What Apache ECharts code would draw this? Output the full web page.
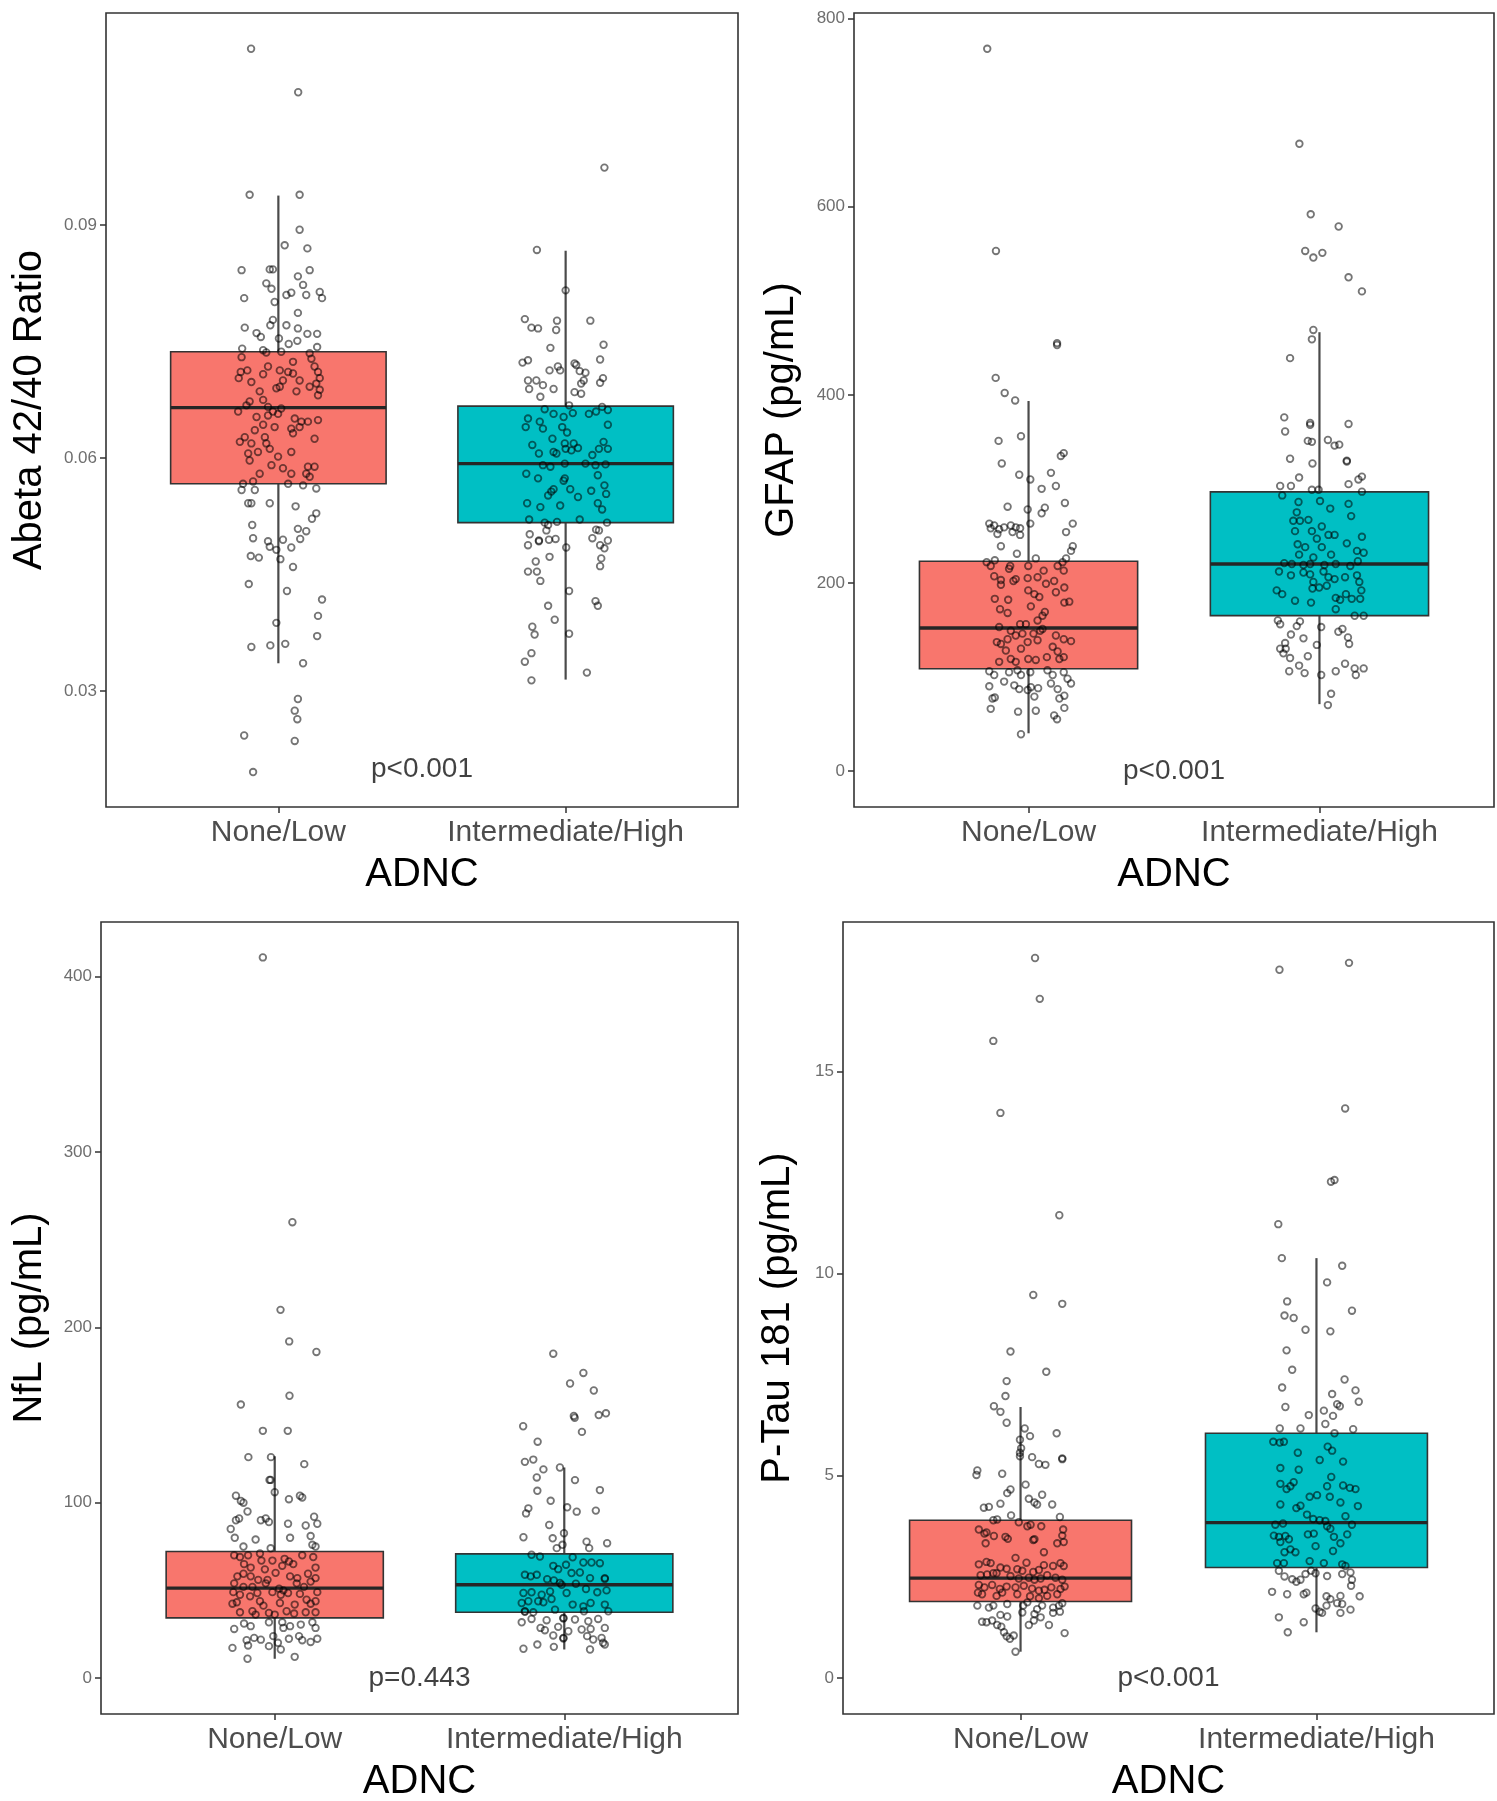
<!DOCTYPE html>
<html>
<head>
<meta charset="utf-8">
<script src="https://cdn.jsdelivr.net/npm/echarts@6/dist/echarts.min.js"></script>
<style>
html,body{margin:0;padding:0;background:#fff;}
#chart{width:1497px;height:1801px;}
</style>
</head>
<body>
<div id="chart"></div>
<script>
// ---------------- data ----------------
const categories = ['None/Low', 'Intermediate/High'];
const xAxisTitle = 'ADNC';
const yTitles = ['Abeta 42/40 Ratio', 'GFAP (pg/mL)', 'NfL (pg/mL)', 'P-Tau 181 (pg/mL)'];
const pValues = ['p<0.001', 'p<0.001', 'p=0.443', 'p<0.001'];
const pValueY = [0.02, 0, 0, 0];

const abetaTicks = [0.03, 0.06, 0.09];
const gfapTicks = [0, 200, 400, 600, 800];
const nflTicks = [0, 100, 200, 300, 400];
const ptauTicks = [0, 5, 10, 15];

const abetaRange = [0.0151, 0.1173];
const gfapRange = [-38.4, 806.1];
const nflRange = [-20.5, 431.2];
const ptauRange = [-0.89, 18.69];

// box stats: [lower whisker, Q1, median, Q3, upper whisker]
const abetaBoxes = [[0.0336, 0.0567, 0.0665, 0.0737, 0.0938], [0.0315, 0.0517, 0.0593, 0.0667, 0.0867]];
const gfapBoxes = [[40, 108.6, 152, 223, 393.4], [71, 165.2, 220.1, 296.8, 466.6]];
const nflBoxes = [[11, 34.3, 51.3, 72.2, 126.5], [16.3, 37.5, 53.2, 70.8, 120.1]];
const ptauBoxes = [[0.65, 1.89, 2.47, 3.90, 6.70], [1.13, 2.73, 3.84, 6.05, 10.38]];

// points: [horizontal jitter, value]
const abetaNoneLow = [[-0.100,0.0939],[0.074,0.0939],[0.074,0.0894],[0.022,0.0874],[0.101,0.0870],[-0.128,0.0842],[-0.030,0.0843],[-0.019,0.0843],[0.109,0.0842],[0.068,0.0834],[-0.042,0.0825],[-0.024,0.0818],[0.086,0.0823],[-0.119,0.0806],[-0.013,0.0801],[0.028,0.0810],[0.045,0.0813],[0.097,0.0810],[0.144,0.0814],[0.152,0.0806],[0.068,0.0787],[-0.019,0.0778],[-0.028,0.0771],[-0.117,0.0768],[-0.076,0.0761],[-0.061,0.0756],[0.028,0.0771],[0.068,0.0767],[0.101,0.0760],[0.135,0.0760],[0.002,0.0754],[0.036,0.0747],[0.066,0.0751],[0.135,0.0743],[-0.126,0.0741],[-0.053,0.0739],[-0.042,0.0736],[-0.128,0.0730],[0.010,0.0737],[0.109,0.0735],[0.115,0.0728],[0.051,0.0724],[0.126,0.0718],[-0.131,0.0711],[-0.108,0.0713],[-0.053,0.0708],[-0.036,0.0718],[0.005,0.0713],[0.034,0.0711],[0.051,0.0709],[0.138,0.0711],[0.144,0.0703],[-0.138,0.0703],[-0.094,0.0698],[-0.007,0.0690],[0.005,0.0692],[0.016,0.0700],[0.074,0.0700],[0.109,0.0692],[0.132,0.0696],[0.144,0.0688],[-0.065,0.0686],[0.063,0.0686],[0.138,0.0681],[-0.053,0.0675],[-0.100,0.0673],[-0.140,0.0660],[-0.111,0.0668],[-0.036,0.0666],[0.010,0.0664],[-0.076,0.0653],[-0.036,0.0655],[-0.019,0.0660],[-0.001,0.0657],[0.057,0.0651],[0.080,0.0647],[0.103,0.0647],[0.138,0.0649],[-0.053,0.0643],[-0.013,0.0640],[0.045,0.0638],[0.074,0.0640],[-0.082,0.0636],[-0.117,0.0627],[-0.047,0.0627],[0.051,0.0632],[0.126,0.0625],[-0.134,0.0621],[-0.094,0.0619],[-0.042,0.0619],[-0.030,0.0612],[-0.071,0.0608],[-0.105,0.0606],[0.045,0.0608],[-0.100,0.0597],[-0.001,0.0602],[-0.024,0.0591],[0.016,0.0587],[0.103,0.0589],[0.126,0.0589],[-0.065,0.0580],[0.045,0.0580],[0.097,0.0580],[0.109,0.0576],[-0.123,0.0567],[-0.088,0.0570],[0.034,0.0567],[0.086,0.0565],[0.132,0.0561],[-0.128,0.0559],[-0.082,0.0559],[-0.105,0.0542],[-0.094,0.0542],[-0.030,0.0542],[0.060,0.0538],[0.132,0.0529],[0.117,0.0522],[-0.091,0.0514],[0.068,0.0509],[0.097,0.0506],[-0.088,0.0497],[0.076,0.0496],[-0.036,0.0493],[0.016,0.0495],[-0.030,0.0486],[-0.007,0.0482],[0.045,0.0485],[-0.096,0.0474],[-0.068,0.0472],[0.007,0.0470],[0.051,0.0460],[-0.103,0.0438],[0.030,0.0429],[0.152,0.0418],[0.138,0.0397],[-0.007,0.0388],[0.135,0.0371],[-0.094,0.0357],[-0.028,0.0359],[0.024,0.0361],[0.086,0.0336],[0.068,0.0290],[0.057,0.0275],[0.066,0.0264],[-0.119,0.0243],[0.057,0.0236],[-0.088,0.0196],[-0.095,0.1127],[0.069,0.1071]];
const abetaIntHigh = [[0.135,0.0974],[-0.100,0.0868],[0.000,0.0816],[-0.142,0.0779],[-0.119,0.0768],[-0.096,0.0767],[-0.030,0.0777],[-0.033,0.0765],[0.086,0.0777],[-0.053,0.0742],[0.132,0.0746],[-0.150,0.0723],[-0.131,0.0726],[0.120,0.0727],[-0.027,0.0718],[-0.019,0.0713],[0.031,0.0722],[0.037,0.0720],[-0.056,0.0713],[0.049,0.0712],[0.069,0.0710],[-0.131,0.0700],[-0.102,0.0700],[-0.079,0.0694],[-0.127,0.0689],[-0.042,0.0689],[-0.088,0.0679],[0.054,0.0696],[0.063,0.0700],[0.120,0.0697],[0.130,0.0703],[0.031,0.0685],[0.054,0.0683],[0.012,0.0668],[-0.073,0.0663],[-0.042,0.0657],[-0.007,0.0653],[0.025,0.0658],[0.081,0.0657],[0.106,0.0660],[0.127,0.0666],[0.147,0.0662],[-0.131,0.0651],[-0.139,0.0640],[-0.090,0.0647],[-0.079,0.0638],[-0.012,0.0640],[0.005,0.0633],[0.147,0.0643],[-0.116,0.0617],[-0.093,0.0606],[-0.046,0.0625],[-0.003,0.0619],[0.028,0.0619],[0.043,0.0613],[-0.042,0.0608],[-0.032,0.0606],[0.000,0.0612],[0.020,0.0610],[0.093,0.0604],[0.116,0.0612],[0.132,0.0621],[0.147,0.0612],[-0.079,0.0591],[-0.053,0.0589],[-0.003,0.0593],[0.069,0.0593],[0.104,0.0591],[0.139,0.0592],[-0.137,0.0580],[-0.096,0.0574],[-0.003,0.0574],[0.112,0.0578],[-0.007,0.0571],[0.135,0.0565],[0.016,0.0560],[0.089,0.0558],[-0.050,0.0557],[-0.061,0.0552],[-0.042,0.0560],[0.043,0.0550],[0.141,0.0554],[-0.134,0.0542],[-0.088,0.0537],[-0.019,0.0539],[0.112,0.0542],[0.127,0.0534],[-0.127,0.0521],[-0.073,0.0517],[-0.030,0.0518],[-0.061,0.0514],[0.049,0.0521],[0.144,0.0517],[-0.067,0.0507],[0.106,0.0508],[0.116,0.0507],[-0.125,0.0502],[-0.093,0.0494],[-0.093,0.0493],[-0.058,0.0495],[-0.035,0.0496],[-0.131,0.0488],[0.093,0.0497],[0.147,0.0494],[0.120,0.0488],[0.135,0.0484],[0.002,0.0485],[-0.056,0.0473],[-0.104,0.0467],[0.124,0.0471],[0.120,0.0461],[-0.131,0.0454],[-0.100,0.0454],[-0.088,0.0442],[0.012,0.0429],[0.104,0.0416],[0.112,0.0410],[-0.061,0.0410],[-0.038,0.0392],[0.012,0.0374],[-0.116,0.0383],[-0.108,0.0373],[-0.119,0.0349],[-0.142,0.0338],[-0.119,0.0314],[0.074,0.0324]];

const gfapNoneLow = [[0.098,455],[0.098,453],[-0.113,418],[-0.082,402],[-0.046,394],[-0.103,351],[-0.026,356],[0.121,338],[0.111,335],[-0.092,327],[-0.032,315],[0.077,317],[0.006,310],[0.045,300],[0.094,303],[0.125,285],[-0.072,281],[-0.003,278],[0.056,280],[0.045,274],[-0.135,263],[-0.118,261],[-0.101,257],[-0.084,259],[-0.061,261],[-0.044,259],[-0.029,258],[-0.055,254],[-0.107,252],[-0.029,251],[-0.130,258],[0.006,263],[0.152,263],[0.129,254],[-0.095,239],[0.152,239],[0.146,234],[-0.040,231],[0.025,226],[0.129,226],[0.117,222],[-0.144,222],[-0.116,224],[-0.130,218],[-0.063,218],[-0.067,215],[-0.001,218],[0.052,213],[0.100,218],[0.121,213],[-0.118,207],[-0.095,203],[-0.044,204],[-0.003,205],[0.031,206],[0.060,199],[0.088,202],[-0.095,198],[0.123,195],[-0.052,202],[-0.001,192],[0.020,188],[0.037,185],[0.094,190],[-0.116,183],[-0.070,182],[0.123,179],[0.140,180],[0.008,175],[-0.098,172],[-0.072,168],[0.056,169],[0.048,165],[0.031,160],[-0.029,156],[-0.009,156],[-0.101,153],[0.040,149],[0.048,151],[-0.061,149],[-0.044,144],[-0.021,146],[0.017,146],[0.094,144],[0.121,140],[0.146,138],[-0.109,137],[-0.095,135],[-0.072,140],[-0.003,137],[0.031,139],[-0.078,128],[-0.026,130],[0.083,132],[0.100,127],[-0.061,119],[-0.044,116],[-0.001,119],[0.025,118],[0.063,121],[0.106,119],[0.121,121],[-0.101,116],[-0.135,106],[-0.118,102],[-0.067,105],[-0.038,107],[-0.026,102],[0.006,105],[0.065,107],[0.083,102],[0.121,105],[0.134,98],[-0.135,90],[-0.084,95],[-0.049,91],[-0.032,87],[-0.003,86],[0.008,89],[0.033,88],[0.077,93],[0.100,87],[0.146,93],[-0.124,77],[-0.116,78],[0.020,79],[0.106,77],[0.123,80],[-0.130,66],[-0.036,63],[0.025,64],[0.123,67],[0.088,59],[0.098,55],[-0.026,39],[-0.142,768],[-0.112,553]];
const gfapIntHigh = [[-0.069,667],[-0.030,592],[0.066,579],[-0.049,553],[-0.021,546],[0.010,551],[0.100,525],[0.146,510],[-0.021,469],[-0.026,459],[-0.101,439],[-0.121,376],[-0.118,361],[-0.032,370],[-0.032,368],[0.100,369],[-0.040,351],[-0.026,350],[0.029,352],[0.052,346],[0.068,347],[-0.101,332],[-0.024,327],[0.094,330],[0.094,329],[-0.070,312],[0.134,310],[0.146,313],[-0.135,303],[-0.128,293],[-0.098,303],[-0.026,299],[-0.003,299],[0.100,305],[0.146,297],[-0.072,286],[-0.078,275],[0.002,287],[0.037,279],[0.100,284],[0.109,271],[-0.090,266],[-0.067,266],[-0.038,267],[-0.084,255],[-0.026,255],[0.008,260],[0.031,251],[0.052,251],[-0.009,247],[0.146,249],[-0.075,241],[-0.049,238],[0.008,238],[0.094,242],[0.129,234],[0.152,232],[-0.070,230],[-0.021,227],[0.040,230],[-0.121,221],[-0.095,220],[-0.055,219],[-0.032,220],[0.017,219],[0.056,220],[0.106,218],[0.132,223],[-0.139,212],[-0.098,208],[-0.055,211],[-0.032,209],[0.014,212],[0.031,206],[0.052,204],[0.088,206],[0.129,208],[0.137,201],[-0.021,201],[-0.001,195],[0.025,197],[-0.147,192],[-0.128,188],[-0.024,194],[0.091,188],[0.111,183],[-0.084,181],[-0.029,179],[0.056,184],[0.071,182],[0.144,192],[0.140,183],[0.056,172],[0.121,165],[0.152,165],[-0.143,160],[-0.135,156],[-0.078,154],[-0.067,159],[0.006,153],[0.065,148],[0.079,151],[-0.098,145],[-0.055,141],[-0.009,134],[0.098,142],[0.102,135],[-0.118,136],[-0.135,130],[-0.116,130],[-0.124,125],[-0.101,120],[-0.040,122],[-0.070,112],[-0.051,104],[-0.104,106],[0.006,102],[0.056,106],[0.088,114],[0.121,109],[0.125,102],[0.152,109],[0.040,82],[0.029,70]];

const nflNoneLow = [[-0.041,411],[0.061,260],[0.020,210],[0.050,192],[0.144,186],[0.051,161],[-0.117,156],[-0.041,141],[0.045,141],[-0.091,126],[-0.013,126],[0.102,122],[-0.018,113],[-0.014,113],[0.000,106],[0.087,104],[0.095,103],[-0.134,104],[-0.117,101],[-0.108,100],[0.049,102],[-0.094,95],[-0.134,90],[-0.123,91],[-0.048,90],[-0.031,91],[-0.020,89],[0.046,88],[0.107,87],[0.136,92],[0.147,88],[-0.152,85],[-0.138,80],[-0.066,79],[0.053,80],[0.124,81],[0.130,76],[0.141,75],[-0.108,75],[-0.014,74],[-0.140,70],[-0.120,69],[-0.092,70],[-0.051,71],[-0.046,67],[0.034,68],[0.049,66.5],[0.095,70],[0.133,69],[-0.106,65],[-0.083,63],[-0.034,62],[-0.008,67],[0.026,64],[0.064,65],[0.141,63],[-0.129,58],[-0.108,59.5],[-0.083,58],[-0.057,56],[-0.025,56],[0.003,60],[0.053,58],[0.078,57],[0.115,59.5],[0.141,57],[-0.140,54],[-0.108,52],[-0.077,52],[-0.031,54],[0.015,51],[0.030,50],[0.076,54],[0.101,52],[0.124,55],[-0.143,49],[-0.120,47.5],[-0.085,46.6],[-0.060,48.5],[-0.008,49],[0.021,47.5],[0.046,48.5],[0.087,48],[0.147,49],[-0.146,42.4],[-0.131,43.2],[-0.051,43.8],[-0.039,41.3],[0.018,42.8],[0.069,41.9],[0.110,44.7],[0.124,42.4],[0.141,43.8],[-0.120,37.5],[-0.077,38.1],[-0.066,36.2],[-0.020,37.1],[0.000,36.2],[0.041,38.1],[0.067,36.8],[0.107,37.5],[0.141,37.5],[-0.140,28],[-0.106,31.1],[-0.083,29.6],[-0.020,31.8],[0.026,31.8],[0.030,28.6],[0.053,29.6],[0.090,30.5],[0.130,31.8],[0.141,28.6],[-0.097,21.6],[-0.071,22.9],[-0.048,21.9],[-0.005,23.9],[0.011,20.1],[0.049,22.4],[0.084,23.9],[0.095,21.6],[0.124,20.6],[0.147,22.4],[-0.146,17.2],[-0.092,18.6],[-0.020,18.2],[0.021,16.3],[-0.094,11],[0.069,12.1]];
const nflIntHigh = [[-0.038,185],[0.066,174],[0.020,168],[0.102,164],[0.033,149.5],[0.036,148.5],[0.119,150],[0.144,151],[-0.142,143.6],[0.061,140.4],[-0.092,134.8],[-0.136,123.3],[-0.107,124.6],[-0.015,120.1],[-0.072,119],[-0.095,114.4],[0.037,112.9],[-0.093,106.8],[0.123,107.2],[-0.047,101.1],[-0.124,96.8],[-0.132,93.9],[0.010,97.4],[0.043,94.9],[0.109,95.5],[-0.052,87.3],[-0.141,80.3],[-0.040,79.7],[-0.001,82.6],[0.077,77.8],[0.148,76.9],[-0.026,74.1],[-0.006,76],[0.086,74.1],[-0.113,70.3],[-0.084,69.3],[0.029,68.9],[-0.038,64],[-0.021,62.1],[0.006,64.6],[0.066,65.9],[0.094,65.9],[0.123,65.5],[-0.136,58.9],[-0.116,58],[-0.095,58.9],[-0.059,56.4],[-0.036,55.7],[0.025,59.9],[0.054,60.2],[0.089,57],[0.140,57],[0.140,56.5],[-0.015,54.2],[-0.009,53.2],[0.040,53.8],[-0.141,48.5],[-0.113,48.9],[-0.078,47.5],[-0.049,49.4],[0.008,48.5],[0.075,50.8],[0.114,48.9],[0.146,50],[-0.147,42.8],[-0.124,43.8],[-0.090,43.8],[-0.072,43.2],[-0.044,45.1],[0.029,41.9],[0.066,40.9],[0.091,42.8],[0.140,41.9],[-0.136,38.1],[-0.136,37.8],[-0.107,37.5],[-0.032,39],[0.068,38.1],[0.152,38.1],[-0.113,33.7],[-0.003,34.3],[-0.003,34.0],[0.037,33.4],[0.083,32.4],[0.117,33.7],[-0.147,31.8],[-0.061,33],[-0.082,28.6],[-0.067,27.3],[-0.021,29.2],[0.014,26.7],[0.060,27.7],[0.091,28],[0.140,28.6],[-0.038,24.3],[-0.003,22.9],[-0.003,22.6],[0.079,23.9],[0.100,22],[0.134,20.1],[-0.093,19.1],[-0.036,17.8],[0.089,16.3],[0.129,22.9],[-0.141,16.7],[0.140,19.1]];

const ptauNoneLow = [[0.049,17.80],[0.065,16.79],[-0.092,15.75],[-0.068,13.97],[0.131,11.44],[0.043,9.47],[0.141,9.25],[-0.034,8.07],[0.087,7.57],[-0.047,7.34],[-0.051,6.97],[-0.090,6.72],[-0.068,6.58],[-0.047,6.31],[0.014,6.17],[0.032,5.98],[-0.002,5.89],[0.122,6.05],[0.002,5.68],[-0.002,5.57],[-0.002,5.48],[0.039,5.46],[0.062,5.29],[0.084,5.27],[0.141,5.43],[0.141,5.41],[-0.146,5.13],[-0.149,5.02],[-0.062,5.05],[0.017,4.78],[-0.034,4.66],[-0.045,4.57],[0.028,4.43],[0.047,4.34],[0.056,4.29],[0.073,4.53],[-0.124,4.21],[-0.107,4.23],[-0.068,4.31],[0.107,4.29],[-0.032,4.02],[0.133,3.98],[-0.092,3.90],[-0.079,3.92],[-0.141,3.67],[-0.122,3.57],[-0.115,3.60],[-0.090,3.51],[-0.051,3.49],[-0.043,3.44],[-0.006,3.85],[0.023,3.75],[0.034,3.79],[0.070,3.75],[0.043,3.41],[0.047,3.43],[0.144,3.67],[0.141,3.52],[-0.118,3.33],[0.124,3.33],[0.146,3.36],[0.079,3.11],[-0.017,2.97],[-0.141,2.81],[-0.115,2.87],[-0.101,2.84],[0.020,2.85],[0.079,2.79],[0.110,2.77],[0.135,2.84],[0.146,2.77],[-0.068,2.73],[-0.047,2.70],[-0.011,2.69],[0.006,2.65],[0.043,2.62],[0.062,2.67],[-0.135,2.54],[-0.113,2.56],[-0.092,2.59],[-0.081,2.59],[-0.034,2.52],[-0.006,2.46],[0.028,2.48],[0.047,2.43],[0.068,2.46],[0.090,2.54],[0.118,2.48],[0.141,2.43],[-0.141,2.30],[-0.122,2.24],[-0.096,2.30],[-0.070,2.20],[-0.047,2.26],[-0.017,2.24],[0.011,2.28],[0.039,2.21],[0.062,2.16],[0.081,2.18],[0.104,2.24],[0.135,2.20],[0.149,2.26],[-0.144,2.11],[-0.130,2.07],[-0.081,2.03],[-0.062,2.11],[-0.011,2.07],[0.032,2.02],[0.062,1.97],[0.090,2.03],[0.124,2.07],[-0.146,1.79],[-0.107,1.74],[-0.092,1.79],[-0.045,1.83],[0.009,1.79],[0.023,1.87],[0.056,1.70],[0.073,1.79],[0.110,1.74],[0.130,1.79],[0.141,1.85],[-0.068,1.56],[-0.045,1.52],[0.006,1.62],[0.047,1.58],[0.068,1.50],[0.110,1.61],[0.133,1.64],[-0.130,1.39],[-0.115,1.38],[-0.096,1.42],[-0.079,1.31],[-0.065,1.27],[0.028,1.31],[0.045,1.42],[0.096,1.31],[-0.056,1.13],[-0.047,1.03],[-0.036,0.97],[-0.023,1.05],[0.149,1.11],[-0.017,0.65]];
const ptauIntHigh = [[-0.125,17.51],[0.110,17.68],[0.097,14.08],[0.049,12.27],[0.061,12.31],[-0.129,11.22],[-0.117,10.38],[0.087,10.19],[0.036,9.78],[-0.099,9.31],[0.120,9.08],[-0.108,8.96],[-0.077,8.90],[-0.037,8.61],[0.047,8.57],[-0.101,8.10],[-0.082,7.62],[0.095,7.38],[-0.116,7.18],[0.053,7.02],[0.079,6.72],[0.070,6.77],[0.132,7.11],[0.143,6.83],[-0.105,6.70],[-0.026,6.50],[0.025,6.61],[0.056,6.48],[0.030,6.28],[-0.124,6.17],[-0.054,6.17],[0.124,6.15],[0.061,6.05],[-0.146,5.84],[-0.124,5.82],[-0.110,5.84],[0.038,5.72],[0.053,5.62],[-0.063,5.57],[0.011,5.39],[0.090,5.35],[-0.122,5.19],[-0.060,5.15],[0.050,4.97],[-0.122,4.80],[-0.101,4.67],[-0.088,4.74],[-0.077,4.84],[0.036,4.74],[0.090,4.76],[0.113,4.70],[0.132,4.67],[-0.023,4.48],[0.002,4.52],[0.045,4.48],[-0.122,4.29],[0.081,4.34],[0.140,4.25],[-0.068,4.20],[-0.054,4.26],[-0.032,4.04],[0.098,4.00],[-0.011,3.93],[0.011,3.90],[0.030,3.88],[-0.139,3.79],[-0.113,3.82],[0.120,3.79],[0.036,3.75],[0.047,3.69],[-0.144,3.52],[-0.127,3.49],[-0.105,3.51],[-0.029,3.55],[-0.009,3.57],[0.059,3.49],[0.104,3.55],[-0.122,3.36],[-0.093,3.43],[-0.003,3.26],[0.081,3.33],[-0.108,3.11],[-0.088,3.18],[-0.071,3.11],[0.056,3.14],[-0.023,2.89],[-0.133,2.84],[-0.110,2.84],[0.025,2.84],[0.087,2.81],[0.098,2.77],[-0.127,2.65],[-0.108,2.51],[-0.082,2.44],[-0.068,2.38],[-0.054,2.43],[-0.037,2.57],[-0.018,2.65],[-0.003,2.59],[0.036,2.52],[0.087,2.57],[0.115,2.61],[0.120,2.43],[0.117,2.28],[-0.150,2.13],[-0.099,2.07],[-0.043,2.07],[-0.034,2.11],[0.034,2.02],[0.047,1.95],[0.081,2.03],[0.146,2.02],[0.034,1.79],[0.070,1.85],[0.087,1.83],[-0.003,1.72],[0.011,1.64],[0.019,1.61],[0.115,1.69],[0.081,1.61],[-0.127,1.50],[-0.043,1.38],[-0.097,1.13]];

// ---------------- styles / layout ----------------
const FONT = '"Liberation Sans", Arial, Helvetica, sans-serif';
const BOX_COLORS = ['#F8766D', '#00BFC4'];
const BOX_HALF = 0.375;

const panels = [
  {grid: {left: 106, top: 13, width: 632, height: 794}, range: abetaRange, ticks: abetaTicks, boxes: abetaBoxes, groups: [abetaNoneLow, abetaIntHigh], nameGap: 56},
  {grid: {left: 854, top: 13, width: 640, height: 794}, range: gfapRange, ticks: gfapTicks, boxes: gfapBoxes, groups: [gfapNoneLow, gfapIntHigh], nameGap: 52},
  {grid: {left: 101, top: 922, width: 637, height: 792}, range: nflRange, ticks: nflTicks, boxes: nflBoxes, groups: [nflNoneLow, nflIntHigh], nameGap: 51},
  {grid: {left: 843, top: 922, width: 651, height: 792}, range: ptauRange, ticks: ptauTicks, boxes: ptauBoxes, groups: [ptauNoneLow, ptauIntHigh], nameGap: 45}
];

function fmtTick(v) {
  return String(parseFloat(v.toPrecision(6)));
}

function renderBox(params, api) {
  const x = api.value(0);
  const lo = api.value(1), q1 = api.value(2), med = api.value(3), q3 = api.value(4), hi = api.value(5);
  const tl = api.coord([x - BOX_HALF, q3]);
  const br = api.coord([x + BOX_HALF, q1]);
  const mL = api.coord([x - BOX_HALF, med]);
  const mR = api.coord([x + BOX_HALF, med]);
  const pHi = api.coord([x, hi]);
  const pQ3 = api.coord([x, q3]);
  const pQ1 = api.coord([x, q1]);
  const pLo = api.coord([x, lo]);
  const whisk = {stroke: '#4a4a4a', lineWidth: 2.2};
  return {
    type: 'group',
    children: [
      {type: 'line', shape: {x1: pHi[0], y1: pHi[1], x2: pQ3[0], y2: pQ3[1]}, style: whisk},
      {type: 'line', shape: {x1: pQ1[0], y1: pQ1[1], x2: pLo[0], y2: pLo[1]}, style: whisk},
      {type: 'rect', shape: {x: tl[0], y: tl[1], width: br[0] - tl[0], height: br[1] - tl[1]},
        style: {fill: BOX_COLORS[params.dataIndex], stroke: '#333333', lineWidth: 1.6}},
      {type: 'line', shape: {x1: mL[0], y1: mL[1], x2: mR[0], y2: mR[1]}, style: {stroke: '#262626', lineWidth: 3.4}}
    ]
  };
}

const option = {
  animation: false,
  backgroundColor: '#ffffff',
  textStyle: {fontFamily: FONT},
  grid: [], xAxis: [], yAxis: [], series: []
};

panels.forEach((p, i) => {
  option.grid.push(Object.assign({show: true, borderColor: '#333333', borderWidth: 1.6, backgroundColor: '#ffffff', outerBoundsMode: 'none', containLabel: false}, p.grid));
  option.xAxis.push({
    gridIndex: i, type: 'value', min: 0.4, max: 2.6, position: 'bottom',
    splitLine: {show: false}, axisLine: {show: false, onZero: false},
    axisTick: {show: true, length: 6, customValues: [1, 2], lineStyle: {color: '#333333', width: 1.5}},
    axisLabel: {customValues: [1, 2], formatter: v => categories[Math.round(v) - 1], fontSize: 30, color: '#4d4d4d', margin: 11, fontFamily: FONT},
    name: xAxisTitle, nameLocation: 'middle', nameGap: 48,
    nameTextStyle: {fontSize: 40, color: '#000000', fontFamily: FONT}
  });
  option.yAxis.push({
    gridIndex: i, type: 'value', min: p.range[0], max: p.range[1], position: 'left',
    splitLine: {show: false}, axisLine: {show: false, onZero: false},
    axisTick: {show: true, length: 6, customValues: p.ticks, lineStyle: {color: '#333333', width: 1.5}},
    axisLabel: {customValues: p.ticks, formatter: fmtTick, fontSize: 17, color: '#6e6e6e', margin: 9, fontFamily: FONT},
    name: yTitles[i], nameLocation: 'middle', nameGap: p.nameGap,
    nameTextStyle: {fontSize: 40, color: '#000000', fontFamily: FONT}
  });
  option.series.push({
    type: 'custom', xAxisIndex: i, yAxisIndex: i, silent: true,
    renderItem: renderBox,
    encode: {x: 0, y: [1, 2, 3, 4, 5]},
    data: p.boxes.map((b, gi) => [gi + 1].concat(b)),
    z: 2
  });
  p.groups.forEach((g, gi) => {
    option.series.push({
      type: 'scatter', xAxisIndex: i, yAxisIndex: i, silent: true,
      symbol: 'circle', symbolSize: 6.6,
      itemStyle: {color: 'rgba(0,0,0,0)', borderColor: 'rgba(0,0,0,0.68)', borderWidth: 1.8},
      data: g.map(pt => [gi + 1 + pt[0], pt[1]]),
      z: 3
    });
  });
  option.series.push({
    type: 'scatter', xAxisIndex: i, yAxisIndex: i, silent: true,
    symbol: 'circle', symbolSize: 1,
    itemStyle: {color: 'rgba(0,0,0,0)'},
    label: {show: true, position: 'inside', formatter: () => pValues[i], fontSize: 28, color: '#111111', fontFamily: FONT},
    data: [[1.5, pValueY[i]]],
    z: 4
  });
});

const chart = echarts.init(document.getElementById('chart'), null, {renderer: 'canvas'});
chart.setOption(option);
</script>
</body>
</html>
